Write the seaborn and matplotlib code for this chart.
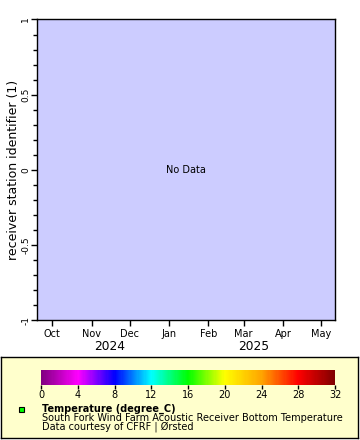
import numpy as np
import pandas as pd
import matplotlib
matplotlib.use("Agg")
import matplotlib.pyplot as plt
import matplotlib.dates as mdates
import matplotlib.transforms as mtransforms
from matplotlib.colors import LinearSegmentedColormap, Normalize
from matplotlib.cm import ScalarMappable
from matplotlib.patches import Rectangle
import seaborn as sns

# data: the dataset returned no rows for this query
times = []
stations = []
temperature = []

x_start = "2024-09-19"
x_end = "2025-05-12"
year_labels = ["2024", "2025"]
year_label_dates = ["2024-11-15", "2025-03-09"]
y_ticks = [-1, -0.5, 0, 0.5, 1]
y_tick_labels = ["-1", "-0.5", "0", "0.5", "1"]
cbar_ticks = [0, 4, 8, 12, 16, 20, 24, 28, 32]
cbar_colors = ["#800080", "#ff00ff", "#0000ff", "#00ffff", "#00ff00",
               "#ffff00", "#ffa500", "#ff0000", "#800000"]

sns.set_style("ticks")
plt.rcParams["font.family"] = ["DejaVu Sans"]
plt.rcParams["text.color"] = "black"
plt.rcParams["axes.labelcolor"] = "black"
plt.rcParams["xtick.color"] = "black"
plt.rcParams["ytick.color"] = "black"

fig = plt.figure(figsize=(3.6, 4.4), dpi=100)
W, H = 360.0, 440.0


def fig_rect(x0, y0, x1, y1):
    return [x0 / W, 1 - y1 / H, (x1 - x0) / W, (y1 - y0) / H]


ax = fig.add_axes(fig_rect(37, 19.5, 335, 320))
ax.set_facecolor("#ccccff")
df = pd.DataFrame({"time": pd.to_datetime(times), "station": stations,
                   "temperature": temperature})
ax.xaxis_date()
if len(df):
    sns.scatterplot(data=df, x="time", y="station", hue="temperature", ax=ax)
else:
    ax.text(0.5, 0.5, "No Data", transform=ax.transAxes, ha="center",
            va="center", fontsize=7)

ax.set_xlim(pd.Timestamp(x_start), pd.Timestamp(x_end))
ax.set_ylim(-1, 1)
for s in ax.spines.values():
    s.set_visible(True)
    s.set_color("black")
    s.set_linewidth(1)

ax.xaxis.set_major_locator(mdates.MonthLocator())
ax.xaxis.set_major_formatter(mdates.DateFormatter("%b"))
ax.xaxis.set_minor_locator(mdates.YearLocator())
ax.tick_params(axis="x", which="major", length=4, width=1, labelsize=7,
               pad=2.5, direction="out")
ax.tick_params(axis="x", which="minor", length=6, width=2, direction="out")

ax.set_yticks(y_ticks)
ax.set_yticklabels(y_tick_labels, rotation=90, va="center")
ax.yaxis.set_minor_locator(matplotlib.ticker.MultipleLocator(0.1))
ax.tick_params(axis="y", which="major", length=4, width=1, labelsize=6.5,
               pad=0.8, direction="out")
ax.tick_params(axis="y", which="minor", length=3, width=1, direction="out")
ax.set_ylabel("receiver station identifier (1)", fontsize=9)
ax.yaxis.set_label_coords(-0.058, 0.5)
ax.set_xlabel("")

year_trans = mtransforms.blended_transform_factory(ax.transData, fig.transFigure)
for lab, d in zip(year_labels, year_label_dates):
    ax.text(mdates.date2num(pd.Timestamp(d)), 1 - 346 / H, lab, ha="center",
            va="center", fontsize=8.8, transform=year_trans)

# legend box
lax = fig.add_axes(fig_rect(1, 357, 358, 438), zorder=0)
lax.set_facecolor("#ffffcc")
lax.set_xticks([])
lax.set_yticks([])
lax.set_xlim(0, 1)
lax.set_ylim(0, 1)
for s in lax.spines.values():
    s.set_visible(True)
    s.set_color("black")
    s.set_linewidth(1)

cax = fig.add_axes(fig_rect(41, 370, 335, 385), zorder=2)
cmap = LinearSegmentedColormap.from_list("rainbow2", cbar_colors)
cb = fig.colorbar(ScalarMappable(norm=Normalize(0, 32), cmap=cmap), cax=cax,
                  orientation="horizontal", ticks=cbar_ticks)
cb.outline.set_visible(False)
cax.tick_params(length=3, width=1, labelsize=7, pad=0.5)

fig.patches.append(Rectangle((19 / W, 1 - 412 / H), 5 / W, 5 / H,
                             transform=fig.transFigure, facecolor="#00ff00",
                             edgecolor="black", linewidth=0.8, zorder=3))
fig.text(42 / W, 1 - 409 / H, "Temperature (degree_C)", fontsize=7,
         fontweight="bold", va="center", zorder=3)
fig.text(42 / W, 1 - 418 / H,
         "South Fork Wind Farm Acoustic Receiver Bottom Temperature",
         fontsize=7, va="center", zorder=3)
fig.text(42 / W, 1 - 427 / H, "Data courtesy of CFRF | \u00d8rsted",
         fontsize=7, va="center", zorder=3)

fig.savefig("out.png", dpi=100)
